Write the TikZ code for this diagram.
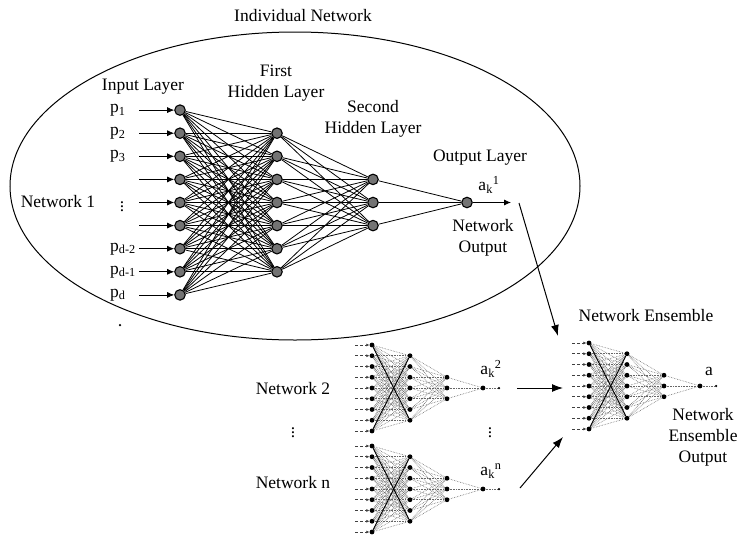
\documentclass[tikz,border=0pt]{standalone}
\usepackage{fontspec}
\setmainfont{Liberation Serif}
\usetikzlibrary{arrows.meta}

% Small dotted network: #1 name prefix, #2/#3 position of its output unit
\newcommand{\minnet}[3]{%
  \foreach \k in {1,...,9} {
    \node[snode] (#1i\k) at ({#2-111}, {#3+10.75*(\k-5)}) {};
    \coordinate (#1t\k) at ({#2-128}, {#3+10.75*(\k-5)});
    \draw[stail] (#1t\k) -- (#1i\k);
  }
  \foreach \j in {1,...,7} \node[snode] (#1h\j) at ({#2-73}, {#3+10.75*(\j-4)}) {};
  \foreach \s in {1,2,3} \node[snode] (#1s\s) at ({#2-36}, {#3+10.75*(\s-2)}) {};
  \node[snode] (#1o) at (#2,#3) {};
  \node[tdot] (#1d) at ({#2+16},#3) {};
  \foreach \k in {1,...,9} \foreach \j in {1,...,7} \draw[sedge] (#1i\k) -- (#1h\j);
  \foreach \j in {1,...,7} \foreach \s in {1,2,3} \draw[sedge] (#1h\j) -- (#1s\s);
  \foreach \s in {1,2,3} \draw[sedge] (#1s\s) -- (#1o);
  \draw[sedge] (#1o) -- (#1d);
  \draw[sx] (#1i1) -- (#1h7);
  \draw[sx] (#1i9) -- (#1h1);
}

\begin{document}
\begin{tikzpicture}[x=1pt,y=-1pt,
  lbl/.style={font=\fontsize{17.5}{21}\selectfont, inner sep=0pt, align=center},
  bnode/.style={circle,draw=black,fill=black!55,line width=1.1pt,minimum size=10.5pt,inner sep=0pt},
  bedge/.style={line width=0.8pt},
  inarrow/.style={line width=0.8pt,-{Latex[length=7pt,width=6pt]}},
  snode/.style={circle,fill=black,minimum size=4.8pt,inner sep=0pt},
  tdot/.style={circle,fill=black,minimum size=2.5pt,inner sep=0pt},
  sedge/.style={black!60,densely dotted,line width=0.6pt},
  sx/.style={black,line width=0.9pt},
  stail/.style={black!75,densely dashed,line width=0.6pt,-{Latex[length=3pt,width=3pt]}},
  bigarrow/.style={line width=1pt,-{Latex[length=11pt,width=8pt]}}]

\useasboundingbox (0,0) rectangle (742,536);

% enclosing ellipse of the individual network
\draw[line width=1pt] (295,186) ellipse [x radius=285pt, y radius=154pt];
\node[lbl] (title) at (303,16) {Individual Network};

% ---- Network 1 ----
\foreach \k in {1,...,9} \node[bnode] (i\k) at (180, {202.5+23.1*(\k-5)}) {};
\foreach \j in {1,...,7} \node[bnode] (h\j) at (277, {202.5+23.1*(\j-4)}) {};
\foreach \s in {1,2,3} \node[bnode] (s\s) at (373, {202.5+23.1*(\s-2)}) {};
\node[bnode] (o) at (467,202.5) {};

\foreach \k in {1,...,9} \foreach \j in {1,...,7} \draw[bedge] (i\k) -- (h\j);
\foreach \j in {1,...,7} \foreach \s in {1,2,3} \draw[bedge] (h\j) -- (s\s);
\foreach \s in {1,2,3} \draw[bedge] (s\s) -- (o);

\foreach \k in {1,...,9} {
  \coordinate (t\k) at (139, {202.5+23.1*(\k-5)});
  \draw[inarrow] (t\k) -- (i\k);
}
\coordinate (oa) at (511,202.5);
\draw[inarrow] (o) -- (oa);

\node[lbl,anchor=west] (p1) at (110,110.3) {p\textsubscript{1}};
\node[lbl,anchor=west] (p2) at (110,133.4) {p\textsubscript{2}};
\node[lbl,anchor=west] (p3) at (110,156.5) {p\textsubscript{3}};
\node[lbl] (pdots) at (122,204) {$\vdots$};
\node[lbl,anchor=west] (pd2) at (110,248.9) {p\textsubscript{d-2}};
\node[lbl,anchor=west] (pd1) at (110,272) {p\textsubscript{d-1}};
\node[lbl,anchor=west] (pd) at (110,295.1) {p\textsubscript{d}};
\node[tdot] (speck) at (120,325) {};

\node[lbl] (inl) at (143,87) {Input Layer};
\node[lbl] (h1l) at (276,83) {First\\Hidden Layer};
\node[lbl] (h2l) at (373,118.5) {Second\\Hidden Layer};
\node[lbl] (outl) at (480,158) {Output Layer};
\node[lbl] (ak1) at (489,185) {a\textsubscript{k}\textsuperscript{1}};
\node[lbl] (nout) at (483,238) {Network\\Output};
\node[lbl] (net1) at (58,202) {Network 1};

% ---- Networks 2 ... n ----
\minnet{nb}{483}{388}
\minnet{nn}{483}{489}
\node[lbl] (net2) at (293,389) {Network 2};
\node[lbl] (netdots) at (293,430) {$\vdots$};
\node[lbl] (netn) at (293,483) {Network n};
\node[lbl] (ak2) at (491,369) {a\textsubscript{k}\textsuperscript{2}};
\node[lbl] (akdots) at (490,430) {$\vdots$};
\node[lbl] (akn) at (491,471) {a\textsubscript{k}\textsuperscript{n}};

% ---- Ensemble ----
\minnet{ens}{700}{386}
\node[lbl] (ensl) at (646,316) {Network Ensemble};
\node[lbl] (aout) at (709,371) {a};
\node[lbl] (ensout) at (703,437) {Network\\Ensemble\\Output};

% arrows feeding the ensemble
\coordinate (a1s) at (519,203);
\coordinate (a1e) at (558,336);
\draw[bigarrow] (a1s) -- (a1e);
\coordinate (a2s) at (517,388);
\coordinate (a2e) at (563,388);
\draw[bigarrow] (a2s) -- (a2e);
\coordinate (a3s) at (520,488);
\coordinate (a3e) at (563,437);
\draw[bigarrow] (a3s) -- (a3e);
\end{tikzpicture}
\end{document}
